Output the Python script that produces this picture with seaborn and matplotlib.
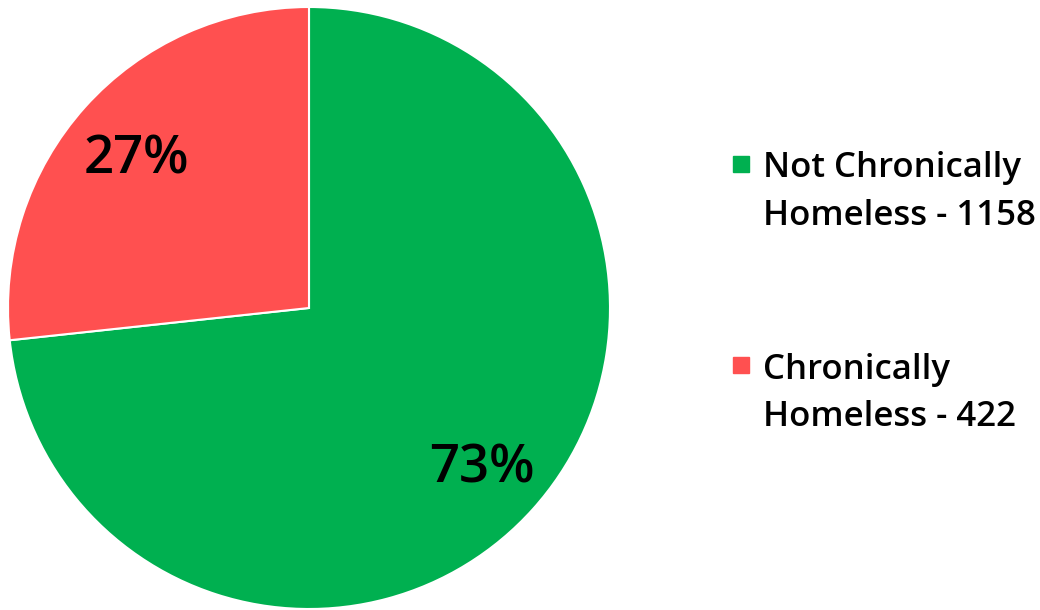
import matplotlib
matplotlib.use("Agg")
import matplotlib.pyplot as plt
import seaborn as sns
import numpy as np
from matplotlib.lines import Line2D
from matplotlib.legend_handler import HandlerLine2D

categories = ["Not Chronically Homeless", "Chronically Homeless"]
legend_labels = ["Not Chronically\nHomeless - 1158", "Chronically\nHomeless - 422"]
values = [1158, 422]
colors = ["#00B050", "#FF5050"]

sns.set_theme(style="white")
plt.rcParams['font.family'] = ['Open Sans', 'DejaVu Sans']


class UpHandler(HandlerLine2D):
    def __init__(self, dy=0.0, **kw):
        super().__init__(**kw)
        self.dy = dy

    def create_artists(self, legend, orig_handle, xdescent, ydescent,
                       width, height, fontsize, trans):
        arts = super().create_artists(legend, orig_handle, xdescent, ydescent,
                                      width, height, fontsize, trans)
        for a in arts:
            a.set_ydata(np.asarray(a.get_ydata(), dtype=float) + self.dy * fontsize)
        return arts


fig = plt.figure(figsize=(10.4, 6.1), dpi=100)
ax = fig.add_axes([8/1040, 1/610, 602/1040, 602/610])
wedges, texts, autotexts = ax.pie(
    values, colors=colors, startangle=90, counterclock=False,
    autopct=lambda p: f"{p:.0f}%", pctdistance=0.77,
    wedgeprops=dict(edgecolor="white", linewidth=1.5),
    textprops=dict(fontsize=38, fontweight="semibold", color="black"))
for t in autotexts:
    t.set_va("center_baseline")
ax.set_xlim(-1, 1)
ax.set_ylim(-1, 1)
ax.set_aspect("equal")
ax.axis("off")

handles = [Line2D([0], [0], marker="s", linestyle="none", markersize=12,
                  markerfacecolor=c, markeredgecolor=c) for c in colors]
leg = fig.legend(handles, legend_labels, loc="center left",
                 bbox_to_anchor=(699/1040, 0.52), frameon=False,
                 prop=dict(size=25, weight="semibold"),
                 labelspacing=3.45, handletextpad=0.35, handlelength=0.6,
                 handler_map={Line2D: UpHandler(dy=0.84)})
for t in leg.get_texts():
    t.set_color("black")
    t.set_linespacing(1.53)

fig.savefig("out.png", dpi=100, facecolor="white")
